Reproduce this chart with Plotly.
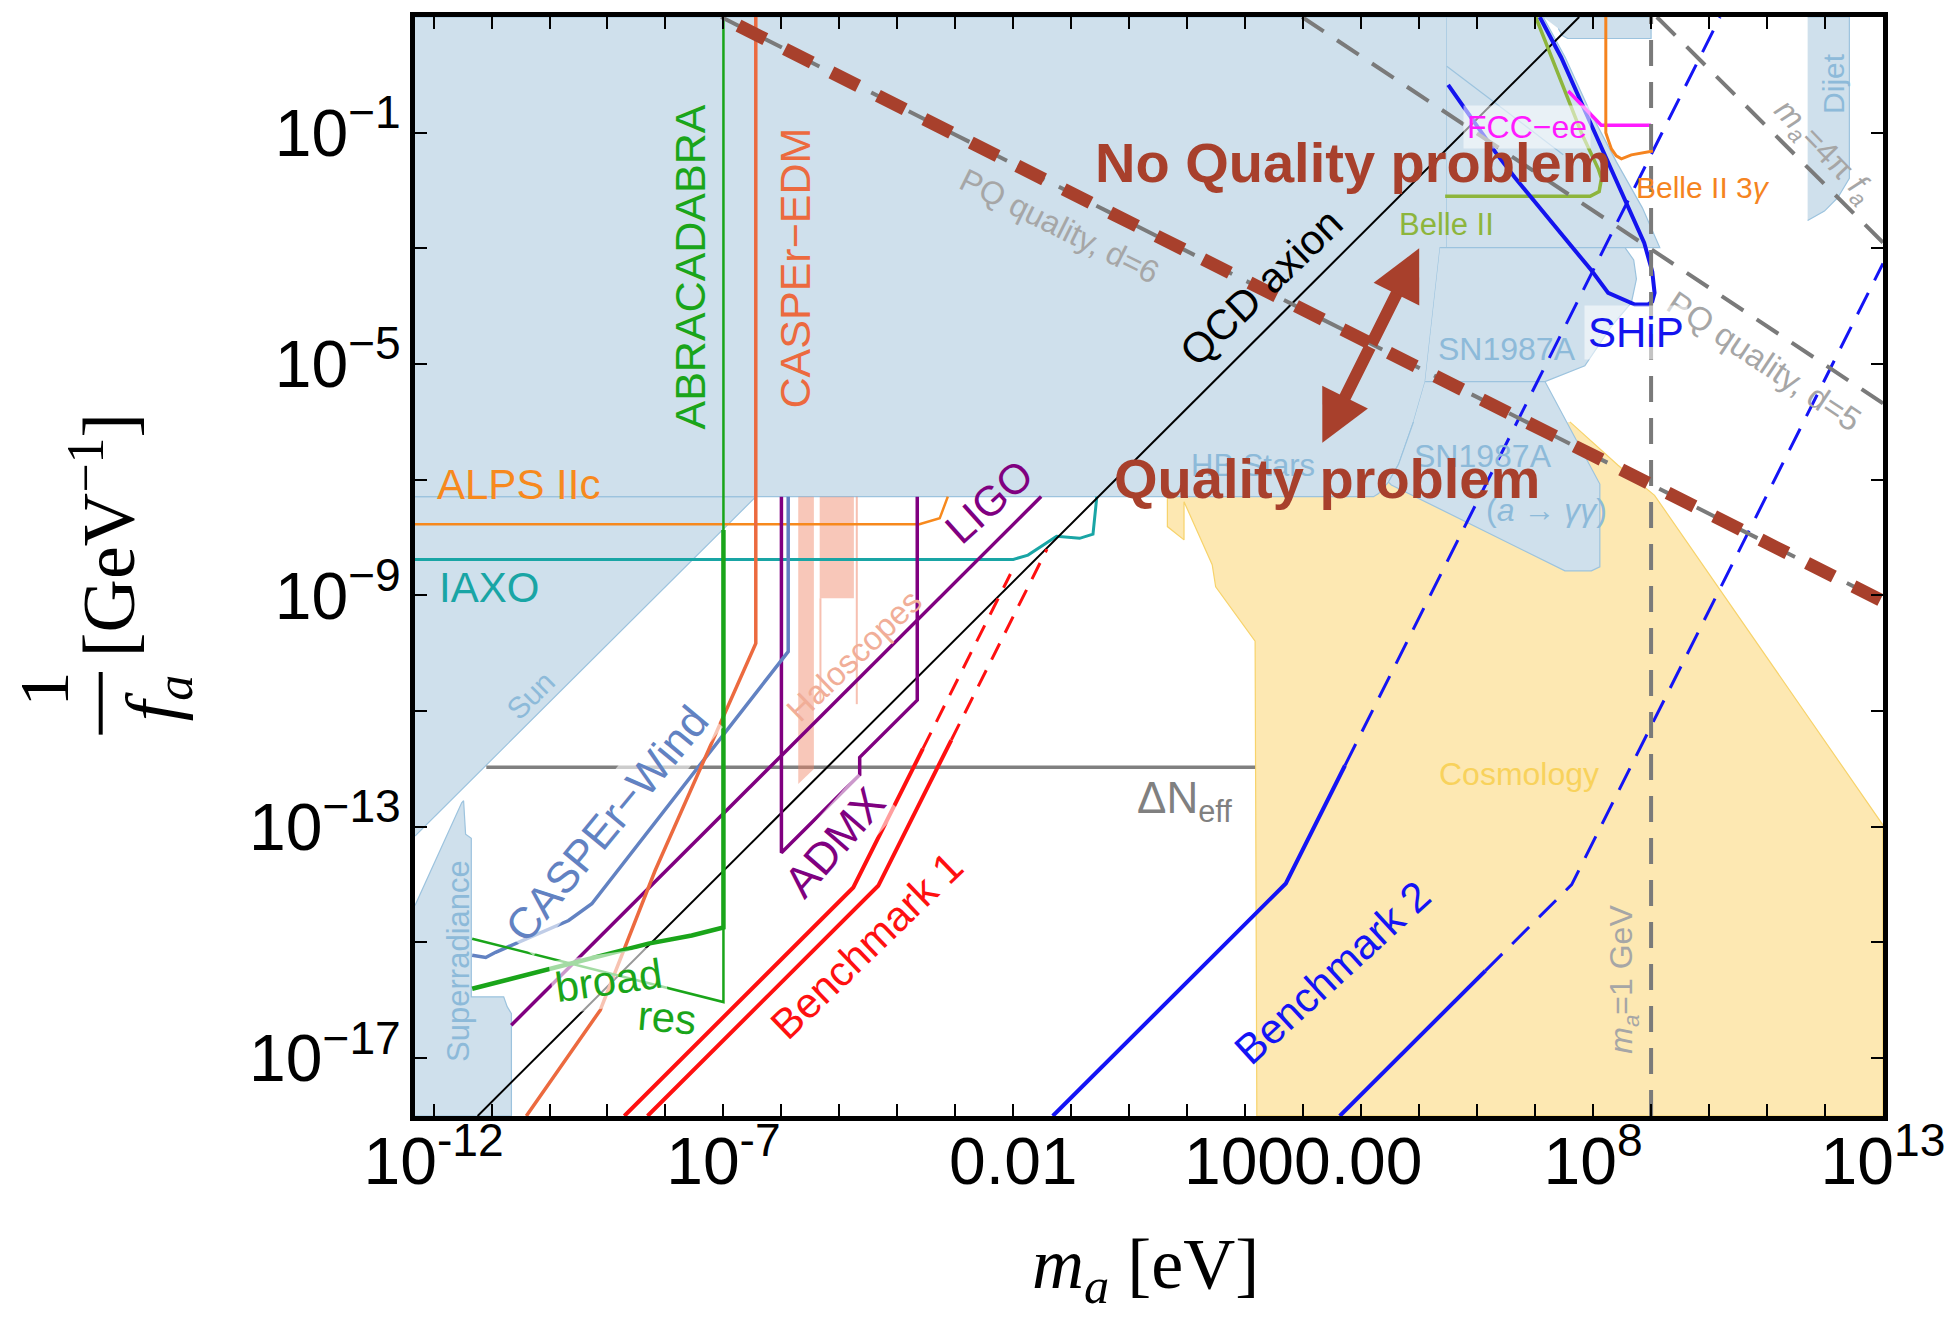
import plotly.graph_objects as go

# All coordinates below are log10(m_a / eV) on x and log10(1/f_a / GeV^-1) on y.

# ---------------- excluded / constrained regions ----------------
sun_x = [-12.32, -6.44, -12.32]
sun_y = [-7.293, -7.293, -13.16]

superrad_x = [-12.32, -11.515, -11.482, -11.447, -11.349, -11.349, -10.79, -10.73, -10.657, -10.657, -12.32]
superrad_y = [-14.36, -12.586, -12.55, -13.129, -13.20, -15.94, -15.94, -16.11, -16.23, -18.0, -18.0]

main_x = [-12.32, 5.476, 5.476, 5.361, 5.103, 4.902, 4.644, 4.47, 4.30, 4.213, -12.32]
main_y = [1.0, 1.0, -2.986, -2.986, -5.303, -6.0, -6.734, -7.04, -7.24, -7.293, -7.293]

beam_x = [5.476, 7.14, 7.52, 7.93, 8.40, 8.85, 9.15, 5.476]
beam_y = [1.0, 1.0, 0.3, -0.6, -1.5, -2.3, -2.986, -2.986]

band_x = [7.14, 9.0, 9.0, 7.56, 7.47, 7.40]
band_y = [1.0, 1.0, 0.628, 0.628, 0.68, 0.8]

sn_x = [5.361, 8.55, 8.70, 8.747, 8.66, 8.316, 7.857, 7.17, 5.103]
sn_y = [-2.986, -2.986, -3.2, -3.531, -3.94, -4.349, -5.03, -5.303, -5.303]

sngg_x = [5.103, 7.17, 8.116, 8.116, 7.97, 7.514, 4.52, 4.47, 4.644, 4.902]
sngg_y = [-5.303, -5.303, -7.075, -8.506, -8.575, -8.575, -7.09, -7.04, -6.734, -6.0]

dijet_x = [11.70, 12.42, 12.42, 12.22, 11.99, 11.70]
dijet_y = [1.0, 1.0, -1.79, -2.124, -2.355, -2.52]

cosmo_x = [0.657, 0.657, 0.944, 0.944, 1.43, 1.49, 2.17, 2.20, 13.0, 13.0, 9.06, 8.43, 7.60]
cosmo_y = [-7.03, -7.81, -8.04, -7.38, -8.47, -8.85, -9.79, -18.0, -18.0, -12.97, -7.27, -6.75, -6.0]

halo1_x = [-5.71, -5.44, -5.44, -5.71]
halo1_y = [-7.293, -7.293, -12.0, -12.26]
halo2_x = [-5.34, -4.75, -4.75, -5.34]
halo2_y = [-7.293, -7.293, -9.05, -9.05]
halo3_x = [-4.70, -4.70]
halo3_y = [-7.293, -10.88]
halo4_x = [-5.327, -5.327]
halo4_y = [-9.05, -10.83]

# ---------------- curves ----------------
qcd_x, qcd_y = [-11.24, 7.76], [-18.0, 1.0]
ligo_x, ligo_y = [-10.66, -1.52], [-16.43, -7.29]
admx_x = [-6.0, -6.0, -4.65, -4.65, -3.657, -3.657]
admx_y = [-7.293, -13.45, -12.1, -11.8, -10.81, -7.293]
wind_x = [-11.334, -11.10, -10.93, -9.67, -9.27, -5.883, -5.883]
wind_y = [-15.22, -15.26, -15.17, -14.62, -14.33, -9.97, -7.293]
edm_x = [-6.442, -6.442, -8.18, -9.125, -10.40]
edm_y = [1.0, -9.83, -13.76, -16.17, -18.0]
res_x, res_y = [-11.334, -7.0, -7.0], [-14.936, -16.03, 1.0]
broad_x = [-11.334, -10.07, -8.295, -7.547, -7.0, -7.0]
broad_y = [-15.80, -15.47, -15.02, -14.88, -14.74, -7.87]
alps_x = [-12.32, -3.62, -3.27, -3.13]
alps_y = [-7.77, -7.77, -7.667, -7.293]
iaxo_x = [-12.32, -2.0, -1.747, -1.581, -1.253, -0.857, -0.626, -0.56]
iaxo_y = [-8.377, -8.377, -8.303, -8.195, -7.977, -8.013, -7.941, -7.293]
dneff_x, dneff_y = [-11.09, 2.17], [-11.97, -11.97]

bm1a_x, bm1a_y = [-8.71, -4.76, -3.56], [-18.0, -14.05, -11.65]
bm1a_dx, bm1a_dy = [-3.56, -2.05], [-11.65, -8.63]
bm1b_x, bm1b_y = [-8.31, -4.33, -3.07], [-18.0, -14.02, -11.50]
bm1b_dx, bm1b_dy = [-3.07, -1.42], [-11.50, -8.20]
bm2c_x, bm2c_y = [-1.32, 2.70, 3.72], [-18.0, -13.98, -11.94]
bm2c_dx, bm2c_dy = [3.72, 10.19], [-11.94, 1.0]
bm2d_x, bm2d_y = [3.63, 6.14], [-18.0, -15.49]
bm2d_dx, bm2d_dy = [6.14, 7.63, 13.0], [-15.49, -14.0, -3.26]

ship_x = [7.08, 7.45, 7.85, 8.25, 8.60, 8.88, 9.02, 9.06, 9.02, 8.95, 8.72, 8.26, 7.97,
          7.51, 7.05, 6.65, 6.32, 5.93, 5.50]
ship_y = [1.0, 0.3, -0.6, -1.5, -2.3, -2.9, -3.4, -3.77, -3.92, -3.97, -3.97, -3.77, -3.38,
          -2.82, -2.27, -1.776, -1.345, -0.79, -0.174]
belle_x = [5.448, 7.949, 8.104, 8.144, 8.087, 7.80, 7.01]
belle_y = [-2.10, -2.10, -2.017, -1.79, -1.62, -1.008, 1.0]
fcc_x, fcc_y = [7.57, 8.0, 8.14, 9.0], [-0.28, -0.74, -0.87, -0.87]
b3g_x = [8.219, 8.219, 8.259, 8.316, 8.40, 8.488, 8.66, 8.832, 9.034]
b3g_y = [1.0, -1.0, -1.12, -1.281, -1.40, -1.452, -1.383, -1.35, -1.315]
edge_x, edge_y = [5.476, 7.485], [0.15, -1.38]

gev_x, gev_y = [9.0, 9.0], [-18.0, 1.0]
pq6_x, pq6_y = [-7.04, 13.0], [1.0, -9.10]
pq5_x, pq5_y = [2.98, 13.0], [1.0, -5.68]
fpi_x, fpi_y = [9.1, 13.0], [1.0, -2.9]
qual_x, qual_y = [-6.74, 13.0], [0.85, -9.10]

# axis ticks: every decade on x, every second decade on y
x_tick_exp = list(range(-12, 14))
x_tick_lab = {-12: "10<sup>-12</sup>", -7: "10<sup>-7</sup>", -2: "0.01",
              3: "1000.00", 8: "10<sup>8</sup>", 13: "10<sup>13</sup>"}
y_tick_exp = list(range(-17, 1, 2))
y_tick_lab = {-1: "10<sup>−1</sup>", -5: "10<sup>−5</sup>", -9: "10<sup>−9</sup>",
              -13: "10<sup>−13</sup>", -17: "10<sup>−17</sup>"}

# ---------------- styling ----------------
BLUE_FILL, BLUE_EDGE = "#cfe0ec", "#9cc3de"
YEL_FILL, YEL_EDGE = "#fde8b2", "#f7d36b"
LBL_BLUE = "#8dbad9"
QCOL = "#a8402c"
GRAY = "#7a7a7a"
SANS = "Liberation Sans"
SERIF = "Liberation Serif"
HALO = "rgba(240,130,100,0.45)"
VEIL = "rgba(255,255,255,0.6)"


def ev(v):
    return [10 ** t for t in v]


fig = go.Figure()


def region(xs, ys, fill, edge, width=1.2):
    fig.add_trace(go.Scatter(x=ev(xs), y=ev(ys), mode="lines", fill="toself",
                             fillcolor=fill, line=dict(color=edge, width=width),
                             hoverinfo="skip"))


def curve(xs, ys, color, width, dash="solid"):
    fig.add_trace(go.Scatter(x=ev(xs), y=ev(ys), mode="lines",
                             line=dict(color=color, width=width, dash=dash),
                             hoverinfo="skip"))


region(cosmo_x, cosmo_y, YEL_FILL, YEL_EDGE)
region(sun_x, sun_y, BLUE_FILL, BLUE_EDGE)
region(superrad_x, superrad_y, BLUE_FILL, BLUE_EDGE)
region(main_x, main_y, BLUE_FILL, BLUE_EDGE)
region(beam_x, beam_y, BLUE_FILL, BLUE_EDGE)
region(band_x, band_y, BLUE_FILL, BLUE_EDGE)
region(sn_x, sn_y, BLUE_FILL, BLUE_EDGE)
region(sngg_x, sngg_y, BLUE_FILL, BLUE_EDGE)
region(dijet_x, dijet_y, BLUE_FILL, BLUE_EDGE)
curve(edge_x, edge_y, BLUE_EDGE, 1.2)

curve(dneff_x, dneff_y, "#808080", 3.5)
region(halo1_x, halo1_y, HALO, "rgba(0,0,0,0)", 0.5)
region(halo2_x, halo2_y, HALO, "rgba(0,0,0,0)", 0.5)
curve(halo3_x, halo3_y, "rgba(240,130,100,0.5)", 2)
curve(halo4_x, halo4_y, "rgba(240,130,100,0.5)", 2)

curve(alps_x, alps_y, "#f7891d", 2.5)
curve(iaxo_x, iaxo_y, "#19a5a5", 3)
curve(qcd_x, qcd_y, "black", 2)
curve(ligo_x, ligo_y, "#800080", 3.5)
curve(admx_x, admx_y, "#800080", 3.5)
curve(wind_x, wind_y, "#6282c2", 3.5)
curve(edm_x, edm_y, "#ec6a3f", 3.5)
curve(res_x, res_y, "#1aa51a", 2.5)
curve(broad_x, broad_y, "#1aa51a", 4.5)

curve(bm1a_x, bm1a_y, "#ff1010", 4)
curve(bm1b_x, bm1b_y, "#ff1010", 4)
curve(bm1a_dx, bm1a_dy, "#ff1010", 3, "18px,12px")
curve(bm1b_dx, bm1b_dy, "#ff1010", 3, "18px,12px")
curve(bm2c_x, bm2c_y, "#1414f5", 4)
curve(bm2d_x, bm2d_y, "#1414f5", 4)
curve(bm2c_dx, bm2c_dy, "#1414f5", 3, "24px,14px")
curve(bm2d_dx, bm2d_dy, "#1414f5", 3, "24px,14px")

curve(belle_x, belle_y, "#8db53c", 3.5)
curve(ship_x, ship_y, "#1414ee", 4)
curve(fcc_x, fcc_y, "#ff1aff", 3.5)
curve(b3g_x, b3g_y, "#f5841f", 3)

curve(gev_x, gev_y, GRAY, 4, "26px,16px")
curve(pq5_x, pq5_y, GRAY, 4, "26px,16px")
curve(fpi_x, fpi_y, GRAY, 4, "26px,16px")
curve(pq6_x, pq6_y, GRAY, 4, "26px,16px")
curve(qual_x, qual_y, QCOL, 13, "30px,22px")

# ---------------- labels ----------------
# (text, x, y, font size, colour, angle, background)
labels = [
    ("ABRACADABRA", -7.578, -3.315, 43, "#1aa51a", -90, None),
    ("CASPEr−EDM", -5.767, -3.331, 43, "#ec6a3f", -90, None),
    ("Sun", -10.33, -10.73, 30, LBL_BLUE, -45, None),
    ("Superradiance", -11.57, -15.31, 31, LBL_BLUE, -90, None),
    ("CASPEr−Wind", -9.01, -12.95, 44, "#6282c2", -50.4, VEIL),
    ("LIGO", -2.413, -7.38, 42, "#800080", -42, None),
    ("ADMX", -5.091, -13.27, 44, "#800080", -49, VEIL),
    ("Haloscopes", -4.75, -10.04, 33, "#f1ae98", -44, None),
    ("broad", -8.983, -15.654, 42, "#1aa51a", -8, VEIL),
    ("res", -7.977, -16.29, 42, "#1aa51a", 5, None),
    ("Benchmark 1", -4.531, -15.053, 42, "#ff1010", -44, None),
    ("Benchmark 2", 3.508, -15.524, 42, "#1414f5", -42.5, None),
    ("QCD axion", 2.272, -3.684, 42, "black", -43.7, None),
    ("PQ quality, d=6", -1.211, -2.609, 32, "#a6a6a6", 26.5, None),
    ("PQ quality, d=5", 10.956, -4.96, 33, "#a6a6a6", 33.6, None),
    ("<i>m</i><sub><i>a</i></sub>=4π <i>f</i><sub><i>a</i></sub>", 11.96, -1.333, 32, "#a6a6a6", 46, None),
    ("Dijet", 12.15, -0.145, 30, LBL_BLUE, -90, None),
    ("Belle II", 5.476, -2.593, 31, "#8db53c", 0, None),
    ("Belle II 3<i>γ</i>", 9.894, -1.943, 30, "#f5841f", 0, None),
    ("SN1987A", 6.508, -4.741, 32, LBL_BLUE, 0, None),
    ("SN1987A", 6.107, -6.598, 32, LBL_BLUE, 0, None),
    ("(<i>a</i> → <i>γγ</i>)", 7.197, -7.518, 32, LBL_BLUE, 0, None),
    ("HB Stars", 2.134, -6.746, 31, LBL_BLUE, 0, None),
    ("Cosmology", 6.727, -12.095, 32, "#f8d25c", 0, None),
    ("ΔN<sub>eff</sub>", 0.954, -12.55, 44, "#808080", 0, None),
    ("<i>m</i><sub><i>a</i></sub>=1 GeV", 8.53, -15.63, 32, "#a6a6a6", -90, None),
    ("FCC−ee", 6.853, -0.907, 32, "#ff1aff", 0, "rgba(255,255,255,0.55)"),
    ("SHiP", 8.732, -4.448, 42, "#1414ee", 0, "rgba(255,255,255,0.55)"),
    ("<b>No Quality problem</b>", 3.862, -1.517, 56, QCOL, 0, None),
    ("<b>Quality problem</b>", 3.41, -6.983, 56, QCOL, 0, None),
]
for text, lx, ly, size, color, ang, bg in labels:
    fig.add_annotation(x=lx, y=ly, xref="x", yref="y", text=text, showarrow=False,
                       textangle=ang, xanchor="center", yanchor="middle",
                       bgcolor=bg if bg else "rgba(0,0,0,0)", borderpad=3,
                       font=dict(family=SANS, size=size, color=color))

left_labels = [
    ("ALPS IIc", -11.976, -7.086, 42, "#f7891d"),
    ("IAXO", -11.948, -8.862, 42, "#19a5a5"),
]
for text, lx, ly, size, color in left_labels:
    fig.add_annotation(x=lx, y=ly, xref="x", yref="y", text=text, showarrow=False,
                       xanchor="left", yanchor="middle",
                       font=dict(family=SANS, size=size, color=color))

# double-headed arrow between the two regimes
for tip_x, tip_y in [(5.0, -3.0), (3.33, -6.36)]:
    fig.add_annotation(x=tip_x, y=tip_y, ax=4.165, ay=-4.68, xref="x", yref="y",
                       axref="x", ayref="y", text="", showarrow=True, arrowhead=2,
                       arrowsize=0.85, arrowwidth=12, arrowcolor=QCOL,
                       standoff=0, startstandoff=0)

# axis titles
fig.add_annotation(x=0.4976, y=-0.139, xref="paper", yref="paper",
                   xanchor="center", yanchor="middle",
                   text="<i>m</i><sub><i>a</i></sub> [eV]", showarrow=False,
                   font=dict(family=SERIF, size=72, color="black"))
fig.add_annotation(x=-0.2121, y=0.5282, xref="paper", yref="paper",
                   xanchor="center", yanchor="middle",
                   text="[GeV<sup>−1</sup>]", showarrow=False, textangle=-90,
                   font=dict(family=SERIF, size=74, color="black"))
fig.add_annotation(x=-0.2522, y=0.3887, xref="paper", yref="paper",
                   xanchor="center", yanchor="middle",
                   text="1", showarrow=False, textangle=-90,
                   font=dict(family=SERIF, size=70, color="black"))
fig.add_annotation(x=-0.1754, y=0.3797, xref="paper", yref="paper",
                   xanchor="center", yanchor="middle",
                   text="<i>f</i><sub><i>a</i></sub>", showarrow=False, textangle=-90,
                   font=dict(family=SERIF, size=74, color="black"))
fig.add_shape(type="line", xref="paper", yref="paper", x0=-0.2141, x1=-0.2141,
              y0=0.3470, y1=0.4040, line=dict(color="black", width=4))

fig.update_layout(
    width=1957, height=1320, autosize=False,
    margin=dict(l=415, r=71, t=15, b=204),
    plot_bgcolor="white", paper_bgcolor="white", showlegend=False,
)
fig.update_xaxes(
    type="log", range=[-12.32, 13.0], tickmode="array",
    tickvals=[10 ** k for k in x_tick_exp],
    ticktext=[x_tick_lab.get(k, "") for k in x_tick_exp],
    ticks="inside", ticklen=12, tickwidth=2, tickcolor="black",
    showline=True, linewidth=5, linecolor="black", mirror="ticks",
    showgrid=False, zeroline=False, ticklabelstandoff=-16,
    tickfont=dict(family=SANS, size=66, color="black"),
)
fig.update_yaxes(
    type="log", range=[-18.0, 1.0], tickmode="array",
    tickvals=[10 ** k for k in y_tick_exp],
    ticktext=[y_tick_lab.get(k, "") for k in y_tick_exp],
    ticks="inside", ticklen=12, tickwidth=2, tickcolor="black",
    showline=True, linewidth=5, linecolor="black", mirror="ticks",
    showgrid=False, zeroline=False, ticklabelstandoff=-4,
    tickfont=dict(family=SANS, size=66, color="black"),
)

fig.write_html("out.html")
